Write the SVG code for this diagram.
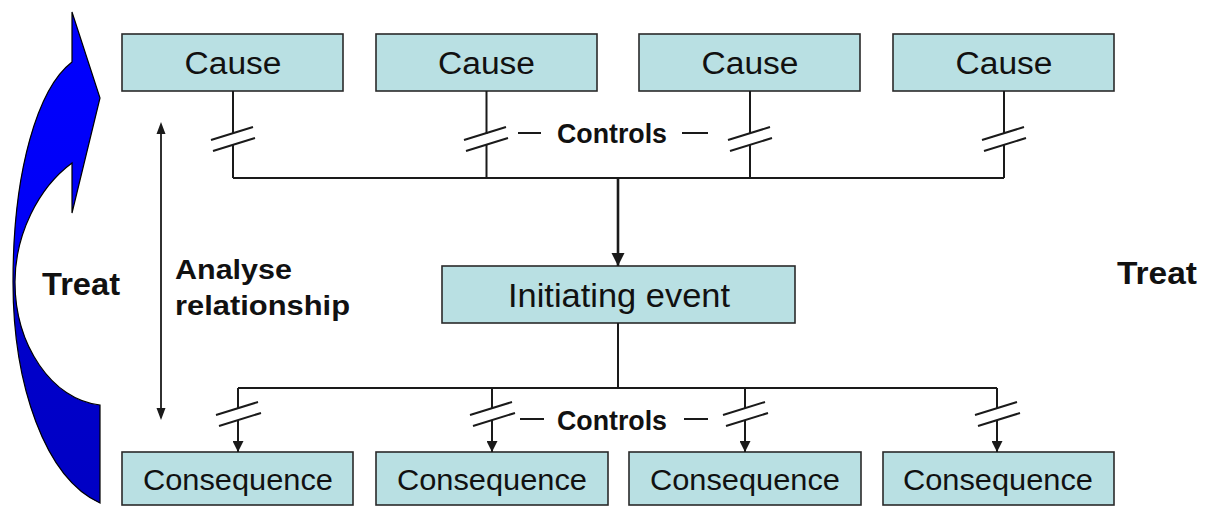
<svg xmlns="http://www.w3.org/2000/svg" width="1207" height="508" viewBox="0 0 1207 508">
<style>
.box{fill:#B9E0E3;stroke:#2a2a2a;stroke-width:1.6}
.lbl{font-family:"Liberation Sans",Arial,sans-serif;fill:#111;text-anchor:middle}
.bold{font-family:"Liberation Sans",Arial,sans-serif;font-weight:bold;fill:#111}
.ln{fill:none;stroke:#1a1a1a;stroke-width:2}
.sl{fill:none;stroke:#1a1a1a;stroke-width:2}
.arr{stroke:#1a1a1a;stroke-width:2;marker-end:url(#ah)}
</style>
<defs>
<linearGradient id="bg" gradientUnits="userSpaceOnUse" x1="0" y1="0" x2="0" y2="508">
<stop offset="0" stop-color="#0000FF"/>
<stop offset="0.53" stop-color="#0000F5"/>
<stop offset="0.58" stop-color="#0000CC"/>
<stop offset="1" stop-color="#0000C4"/>
</linearGradient>
<marker id="ah" viewBox="0 0 10 10" refX="10" refY="5" markerWidth="11" markerHeight="11" markerUnits="userSpaceOnUse" orient="auto">
<path d="M0,0 L10,5 L0,10 Z" fill="#1a1a1a"/>
</marker>
<marker id="ahBig" viewBox="0 0 10 10" refX="10" refY="5" markerWidth="13" markerHeight="14" markerUnits="userSpaceOnUse" orient="auto">
<path d="M0,0 L10,5 L0,10 Z" fill="#1a1a1a"/>
</marker>
</defs>
<rect width="1207" height="508" fill="#fff"/>

<g id="treat-arrow">
<path d="M72,12 L100,98 L72,213 L72,163 C38,188 15,235 15,282 C15,345 52,400 100,405 L100,503 C45,478 13,385 13,282 C13,170 38,88 72,62 Z" fill="url(#bg)" stroke="#000" stroke-width="1.2"/>
</g>

<g id="causes">
<g id="cause1"><rect class="box" x="122" y="34" width="221" height="57"/><text class="lbl" x="233" y="74" font-size="31" textLength="97" lengthAdjust="spacingAndGlyphs">Cause</text></g>
<g id="cause2"><rect class="box" x="376" y="34" width="221" height="57"/><text class="lbl" x="486.5" y="74" font-size="31" textLength="97" lengthAdjust="spacingAndGlyphs">Cause</text></g>
<g id="cause3"><rect class="box" x="639" y="34" width="221" height="57"/><text class="lbl" x="750" y="74" font-size="31" textLength="97" lengthAdjust="spacingAndGlyphs">Cause</text></g>
<g id="cause4"><rect class="box" x="893" y="34" width="221" height="57"/><text class="lbl" x="1004" y="74" font-size="31" textLength="97" lengthAdjust="spacingAndGlyphs">Cause</text></g>
</g>

<g id="initiating-event"><rect class="box" x="442" y="266" width="353" height="57"/><text class="lbl" x="619" y="307" font-size="33" textLength="222" lengthAdjust="spacingAndGlyphs">Initiating event</text></g>

<g id="consequences">
<g id="cons1"><rect class="box" x="122" y="452" width="231" height="53"/><text class="lbl" x="238" y="490" font-size="30" textLength="190" lengthAdjust="spacingAndGlyphs">Consequence</text></g>
<g id="cons2"><rect class="box" x="376" y="452" width="232" height="53"/><text class="lbl" x="492" y="490" font-size="30" textLength="190" lengthAdjust="spacingAndGlyphs">Consequence</text></g>
<g id="cons3"><rect class="box" x="629" y="452" width="232" height="53"/><text class="lbl" x="745" y="490" font-size="30" textLength="190" lengthAdjust="spacingAndGlyphs">Consequence</text></g>
<g id="cons4"><rect class="box" x="883" y="452" width="231" height="53"/><text class="lbl" x="998" y="490" font-size="30" textLength="190" lengthAdjust="spacingAndGlyphs">Consequence</text></g>
</g>

<g id="connectors">
<path class="ln" d="M233,91 V134 M233,144 V178 M486.5,91 V134 M486.5,144 V178 M750,91 V134 M750,144 V178 M1004,91 V134 M1004,144 V178 M233,178 H1004"/>
<path class="sl" d="M211,140 L253,127 M213,151 L255,138 M464,140 L506,127 M466,151 L508,138 M728,140 L770,127 M730,151 L772,138 M982,140 L1024,127 M984,151 L1026,138"/>
<line x1="618" y1="178" x2="618" y2="266" stroke="#1a1a1a" stroke-width="2.6" marker-end="url(#ahBig)"/>
<path class="ln" d="M618,323 V388 M238,388 H997 M238,388 V408 M492,388 V408 M745,388 V408 M997,388 V408"/>
<line class="arr" x1="238" y1="420" x2="238" y2="452"/>
<line class="arr" x1="492" y1="420" x2="492" y2="452"/>
<line class="arr" x1="745" y1="420" x2="745" y2="452"/>
<line class="arr" x1="997" y1="420" x2="997" y2="452"/>
<path class="sl" d="M216,415 L258,402 M219,426 L261,413 M470,415 L512,402 M473,426 L515,413 M723,415 L765,402 M726,426 L768,413 M975,415 L1017,402 M978,426 L1020,413"/>
<line x1="161" y1="132" x2="161" y2="410" stroke="#1a1a1a" stroke-width="1.8"/>
<path d="M161,122 L156.5,134 L165.5,134 Z M161,420 L156.5,408 L165.5,408 Z" fill="#1a1a1a"/>
<path class="ln" d="M518,133 H541 M682,133 H708 M520,419 H544 M684,419 H708"/>
</g>

<g id="labels">
<text class="bold" x="42" y="295" font-size="32" textLength="78" lengthAdjust="spacingAndGlyphs">Treat</text>
<text class="bold" x="1117" y="284" font-size="32" textLength="80" lengthAdjust="spacingAndGlyphs">Treat</text>
<text class="bold" x="175" y="279" font-size="28" textLength="117" lengthAdjust="spacingAndGlyphs">Analyse</text>
<text class="bold" x="175" y="315" font-size="28" textLength="175" lengthAdjust="spacingAndGlyphs">relationship</text>
<text class="bold" x="557" y="143" font-size="28" textLength="110" lengthAdjust="spacingAndGlyphs">Controls</text>
<text class="bold" x="557" y="430" font-size="28" textLength="110" lengthAdjust="spacingAndGlyphs">Controls</text>
</g>
</svg>
